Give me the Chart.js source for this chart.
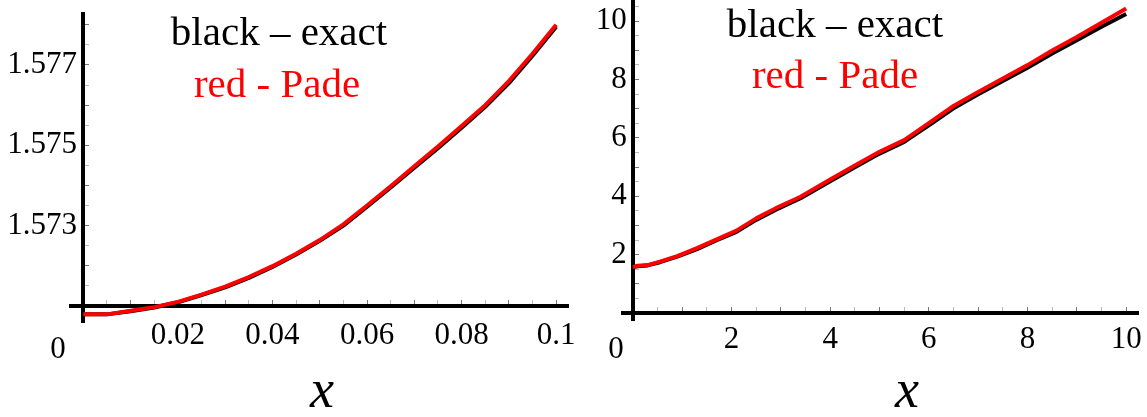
<!DOCTYPE html>
<html lang="en">
<head>
  <meta charset="UTF-8" />
  <title>exact vs Pade</title>
  <script src="https://cdn.jsdelivr.net/npm/chart.js"></script>
  <style>
    html, body { margin: 0; padding: 0; background: #fff; }
    .panel { position: absolute; top: 0; }
    #left { left: 0; }
    #right { left: 575px; }
  </style>
</head>
<body>
  <div class="panel" id="left"><canvas id="chartLeft" width="575" height="417"></canvas></div>
  <div class="panel" id="right"><canvas id="chartRight" width="572" height="417"></canvas></div>

  <script>
    // left panel, 0 <= x <= 0.1
    const xSmall = [0, 0.005, 0.01, 0.015, 0.02, 0.025, 0.03, 0.035, 0.04, 0.045, 0.05,
                    0.055, 0.06, 0.065, 0.07, 0.075, 0.08, 0.085, 0.09, 0.095, 0.1];
    const padeSmall = [1.57079, 1.57079, 1.57088, 1.57097, 1.57110, 1.57128, 1.57148, 1.57172, 1.57199, 1.57230, 1.57264,
                       1.57303, 1.57350, 1.57398, 1.57448, 1.57497, 1.57548, 1.57600, 1.57660, 1.57728, 1.57800];
    const exactSmall = [1.57079, 1.57079, 1.57087, 1.57096, 1.57109, 1.57127, 1.57146, 1.57170, 1.57197, 1.57228, 1.57262,
                        1.57300, 1.57347, 1.57395, 1.57444, 1.57493, 1.57544, 1.57596, 1.57655, 1.57723, 1.57795];
    const xSmallTickLabels = [0.02, 0.04, 0.06, 0.08, 0.1];
    const ySmallTickLabels = [1.573, 1.575, 1.577];

    // right panel, 0 <= x <= 10
    const xLarge = [0, 0.1, 0.3, 0.55, 0.9, 1.3, 1.7, 2.1, 2.5, 2.9, 3.4, 4, 4.5, 5, 5.5, 6, 6.5, 7, 7.5, 8, 8.5, 9, 9.5, 10];
    const padeLarge = [1.57, 1.62, 1.64, 1.76, 1.95, 2.22, 2.52, 2.82, 3.24, 3.59, 3.98, 4.57, 5.05, 5.52,
                       5.92, 6.50, 7.09, 7.57, 8.03, 8.49, 8.99, 9.45, 9.94, 10.43];
    const exactLarge = [1.57, 1.60, 1.63, 1.74, 1.93, 2.19, 2.49, 2.78, 3.19, 3.54, 3.93, 4.51, 4.99, 5.46,
                        5.86, 6.43, 7.01, 7.49, 7.95, 8.40, 8.89, 9.34, 9.80, 10.24];
    const xLargeTickLabels = [2, 4, 6, 8, 10];
    const yLargeTickLabels = [2, 4, 6, 8, 10];

    const SERIF = '"Liberation Serif", "Times New Roman", serif';

    function stepTicks(lo, hi, step) {
      const out = [];
      const n = Math.round((hi - lo) / step);
      for (let i = 0; i <= n; i++) out.push(+(lo + i * step).toFixed(6));
      return out;
    }

    // text that Mathematica puts around the frame: legend lines, origin "0", axis name
    function textPlugin(items) {
      return {
        id: 'panelText',
        afterDraw(chart) {
          const ctx = chart.ctx;
          ctx.save();
          ctx.textAlign = 'center';
          ctx.textBaseline = 'alphabetic';
          items.forEach(t => {
            ctx.font = t.font;
            ctx.fillStyle = t.color;
            ctx.fillText(t.text, t.x, t.y);
          });
          ctx.restore();
        }
      };
    }

    function axis(o) {
      const near = (a, b) => Math.abs(a - b) < o.step / 10;
      return {
        type: 'linear',
        position: o.position,
        min: o.min,
        max: o.max,
        afterBuildTicks: (s) => { s.ticks = o.ticks.map(v => ({ value: v })); },
        afterFit: (s) => { s.paddingLeft = s.paddingRight = s.paddingTop = s.paddingBottom = 0; },
        border: { display: true, color: '#000', width: 4 },
        grid: {
          display: true,
          drawOnChartArea: false,
          drawTicks: true,
          tickLength: -8,
          tickWidth: 1,
          tickColor: (c) => {
            const v = c.tick ? c.tick.value : 0;
            return Math.abs(v / o.majorStep - Math.round(v / o.majorStep)) < 1e-3 ? '#777' : '#bbb';
          }
        },
        ticks: {
          autoSkip: false,
          maxRotation: 0,
          padding: o.padding,
          color: '#000',
          font: { family: SERIF, size: 31 },
          callback: (v) => {
            const hit = o.labels.find(l => near(l, v));
            return hit === undefined ? '' : String(hit) + o.suffix;
          }
        }
      };
    }

    function buildPanel(id, p) {
      const ctx = document.getElementById(id).getContext('2d');
      return new Chart(ctx, {
        type: 'line',
        data: {
          datasets: [
            {
              label: 'red - Pade',
              data: p.xs.map((x, i) => ({ x: x, y: p.pade[i] })),
              borderColor: '#ff0000',
              order: 0
            },
            {
              label: 'black – exact',
              data: p.xs.map((x, i) => ({ x: x, y: p.exact[i] })),
              borderColor: '#000000',
              order: 1
            }
          ]
        },
        options: {
          responsive: false,
          animation: false,
          devicePixelRatio: 1,
          layout: { padding: p.area },
          elements: {
            point: { radius: 0, hoverRadius: 0 },
            line: { tension: 0, borderWidth: 4, borderJoinStyle: 'round', fill: false }
          },
          plugins: { legend: { display: false }, tooltip: { enabled: false } },
          scales: {
            x: axis({
              position: { y: p.yCross }, min: p.xMin, max: p.xMax,
              ticks: p.xTicks, step: p.xStep, majorStep: p.xMajor,
              labels: p.xLabels, suffix: '', padding: p.xPad
            }),
            y: axis({
              position: { x: 0 }, min: p.yMin, max: p.yMax,
              ticks: p.yTicks, step: p.yStep, majorStep: p.yMajor,
              labels: p.yLabels, suffix: '\u2009', padding: 0
            })
          }
        },
        plugins: [textPlugin(p.text)]
      });
    }

    buildPanel('chartLeft', {
      xs: xSmall, pade: padeSmall, exact: exactSmall,
      area: { left: 71, right: 7, top: 14, bottom: 95 },
      xMin: -0.0026, xMax: 0.1025, yMin: 1.5706, yMax: 1.57827, yCross: 1.571,
      xTicks: stepTicks(0, 0.1, 0.005), xStep: 0.005, xMajor: 0.01,
      yTicks: stepTicks(1.571, 1.578, 0.0005), yStep: 0.0005, yMajor: 0.001,
      xLabels: xSmallTickLabels, yLabels: ySmallTickLabels, xPad: 19,
      text: [
        { text: 'black – exact', x: 279, y: 45, font: '41px ' + SERIF, color: '#000' },
        { text: 'red - Pade', x: 277, y: 97, font: '41px ' + SERIF, color: '#ff0000' },
        { text: '0', x: 58, y: 358, font: '31px ' + SERIF, color: '#000' },
        { text: 'x', x: 322, y: 407, font: 'italic 54px ' + SERIF, color: '#000' }
      ]
    });

    buildPanel('chartRight', {
      xs: xLarge, pade: padeLarge, exact: exactLarge,
      area: { left: 48, right: 9, top: 0, bottom: 97 },
      xMin: -0.2, xMax: 10.24, yMin: -0.24, yMax: 10.72, yCross: 0,
      xTicks: stepTicks(0, 10, 0.5), xStep: 0.5, xMajor: 1,
      yTicks: stepTicks(0, 10.5, 0.5), yStep: 0.5, yMajor: 1,
      xLabels: xLargeTickLabels, yLabels: yLargeTickLabels, xPad: 16,
      text: [
        { text: 'black – exact', x: 260, y: 37, font: '41px ' + SERIF, color: '#000' },
        { text: 'red - Pade', x: 260, y: 88, font: '41px ' + SERIF, color: '#ff0000' },
        { text: '0', x: 41, y: 358, font: '31px ' + SERIF, color: '#000' },
        { text: 'x', x: 332, y: 407, font: 'italic 54px ' + SERIF, color: '#000' }
      ]
    });
  </script>
</body>
</html>
